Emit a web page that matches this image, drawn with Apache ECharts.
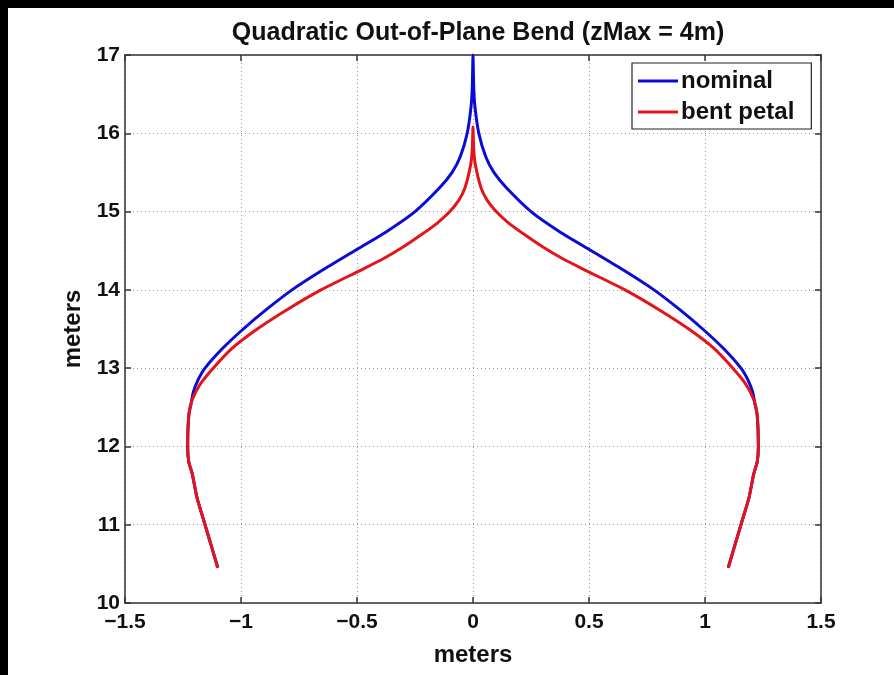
<!DOCTYPE html>
<html>
<head>
<meta charset="utf-8">
<script src="https://cdn.jsdelivr.net/npm/echarts@6/dist/echarts.min.js"></script>
<style>
html,body{margin:0;padding:0;background:#fff;}
#chart{width:894px;height:675px;}
</style>
</head>
<body>
<div id="chart"></div>
<script>
// ---- data (meters) ----
var titleText = 'Quadratic Out-of-Plane Bend (zMax = 4m)';
var xTicks = [-1.5, -1, -0.5, 0, 0.5, 1, 1.5];
var yTicks = [10, 11, 12, 13, 14, 15, 16, 17];

// nominal petal edge, traced from bottom-left up to the tip and down the right side
var nominalX = [-1.10, -1.13, -1.155, -1.19, -1.21, -1.225, -1.23, -1.225, -1.215, -1.205, -1.185, -1.155, -1.08, -0.99, -0.89, -0.78, -0.65, -0.51, -0.37, -0.25, -0.145, -0.09, -0.055, -0.025, -0.008, -0.003, 0.0,
                0.003, 0.008, 0.025, 0.055, 0.09, 0.145, 0.25, 0.37, 0.51, 0.65, 0.78, 0.89, 0.99, 1.08, 1.155, 1.185, 1.205, 1.215, 1.225, 1.23, 1.225, 1.21, 1.19, 1.155, 1.13, 1.10];
var nominalY = [10.45, 10.75, 11.0, 11.35, 11.65, 11.8, 12.0, 12.4, 12.55, 12.7, 12.85, 13.0, 13.25, 13.5, 13.75, 14.0, 14.25, 14.5, 14.75, 15.0, 15.3, 15.5, 15.7, 16.0, 16.35, 16.6, 17.0,
                16.6, 16.35, 16.0, 15.7, 15.5, 15.3, 15.0, 14.75, 14.5, 14.25, 14.0, 13.75, 13.5, 13.25, 13.0, 12.85, 12.7, 12.55, 12.4, 12.0, 11.8, 11.65, 11.35, 11.0, 10.75, 10.45];

// bent petal edge
var bentX = [-1.10, -1.13, -1.155, -1.19, -1.21, -1.225, -1.23, -1.225, -1.21, -1.175, -1.12, -1.04, -0.93, -0.80, -0.655, -0.485, -0.385, -0.30, -0.225, -0.155, -0.10, -0.06, -0.035, -0.01, -0.003, 0.0,
             0.003, 0.01, 0.035, 0.06, 0.10, 0.155, 0.225, 0.30, 0.385, 0.485, 0.655, 0.80, 0.93, 1.04, 1.12, 1.175, 1.21, 1.225, 1.23, 1.225, 1.21, 1.19, 1.155, 1.13, 1.10];
var bentY = [10.45, 10.75, 11.0, 11.35, 11.65, 11.8, 12.0, 12.4, 12.6, 12.8, 13.0, 13.25, 13.5, 13.75, 14.0, 14.25, 14.4, 14.55, 14.7, 14.85, 15.0, 15.15, 15.3, 15.6, 15.8, 16.08,
             15.8, 15.6, 15.3, 15.15, 15.0, 14.85, 14.7, 14.55, 14.4, 14.25, 14.0, 13.75, 13.5, 13.25, 13.0, 12.8, 12.6, 12.4, 12.0, 11.8, 11.65, 11.35, 11.0, 10.75, 10.45];

var seriesNames = ['nominal', 'bent petal'];
var seriesColors = ['#0b0bd6', '#e3151b'];

function pairs(xs, ys) { return xs.map(function (x, i) { return [x, ys[i]]; }); }
function fmt(v) { return String(v).replace('-', '\u2212'); }

var FONT = 'Liberation Sans';
var chart = echarts.init(document.getElementById('chart'), null, { renderer: 'canvas' });

var gridLine = { show: true, lineStyle: { color: '#9a9a9a', type: [1, 3], width: 1 } };
var axisLineStyle = { show: true, onZero: false, lineStyle: { color: '#333', width: 1.5 } };
var tickIn = { show: true, inside: true, length: 6, lineStyle: { color: '#333', width: 1.5 } };

chart.setOption({
  backgroundColor: '#fff',
  animation: false,
  title: {
    text: titleText, left: 473, top: 16, textAlign: 'center',
    textStyle: { fontFamily: FONT, fontWeight: 'bold', fontSize: 25, color: '#111' }
  },
  legend: {
    left: 632, top: 63, orient: 'vertical',
    data: seriesNames,
    icon: 'rect', itemWidth: 40, itemHeight: 3, itemGap: 7,
    padding: [6, 17, 5, 6],
    backgroundColor: '#fff', borderColor: '#222', borderWidth: 1.2,
    textStyle: { fontFamily: FONT, fontWeight: 'bold', fontSize: 24, color: '#111', padding: [0, 0, 0, -2] }
  },
  grid: { left: 125, right: 73, top: 55, bottom: 72 },
  xAxis: [{
    type: 'value', min: -1.5, max: 1.5, interval: 0.5, position: 'bottom',
    name: 'meters', nameLocation: 'middle', nameGap: 40,
    nameTextStyle: { fontFamily: FONT, fontWeight: 'bold', fontSize: 24, color: '#111' },
    axisLine: axisLineStyle, axisTick: tickIn, splitLine: gridLine,
    axisLabel: { fontFamily: FONT, fontWeight: 'bold', fontSize: 21, color: '#111', margin: 9, formatter: fmt }
  }, {
    type: 'value', min: -1.5, max: 1.5, interval: 0.5, position: 'top',
    axisLine: axisLineStyle, axisTick: tickIn, splitLine: { show: false }, axisLabel: { show: false }
  }],
  yAxis: [{
    type: 'value', min: 10, max: 17, interval: 1, position: 'left',
    name: 'meters', nameLocation: 'middle', nameGap: 32,
    nameTextStyle: { fontFamily: FONT, fontWeight: 'bold', fontSize: 24, color: '#111' },
    axisLine: axisLineStyle, axisTick: tickIn, splitLine: gridLine,
    axisLabel: { fontFamily: FONT, fontWeight: 'bold', fontSize: 21, color: '#111', margin: 5, formatter: fmt }
  }, {
    type: 'value', min: 10, max: 17, interval: 1, position: 'right',
    axisLine: axisLineStyle, axisTick: tickIn, splitLine: { show: false }, axisLabel: { show: false }
  }],
  series: [{
    name: seriesNames[0], type: 'line', data: pairs(nominalX, nominalY),
    showSymbol: false, smooth: 0.2, color: seriesColors[0],
    lineStyle: { width: 3, color: seriesColors[0] }, z: 3
  }, {
    name: seriesNames[1], type: 'line', data: pairs(bentX, bentY),
    showSymbol: false, smooth: 0.2, color: seriesColors[1],
    lineStyle: { width: 3, color: seriesColors[1] }, z: 4
  }],
  graphic: [
    { type: 'rect', left: 0, top: 0, shape: { width: 8, height: 675 }, style: { fill: '#000' }, z: 100 },
    { type: 'rect', left: 0, top: 0, shape: { width: 894, height: 8 }, style: { fill: '#000' }, z: 100 }
  ]
});
</script>
</body>
</html>
